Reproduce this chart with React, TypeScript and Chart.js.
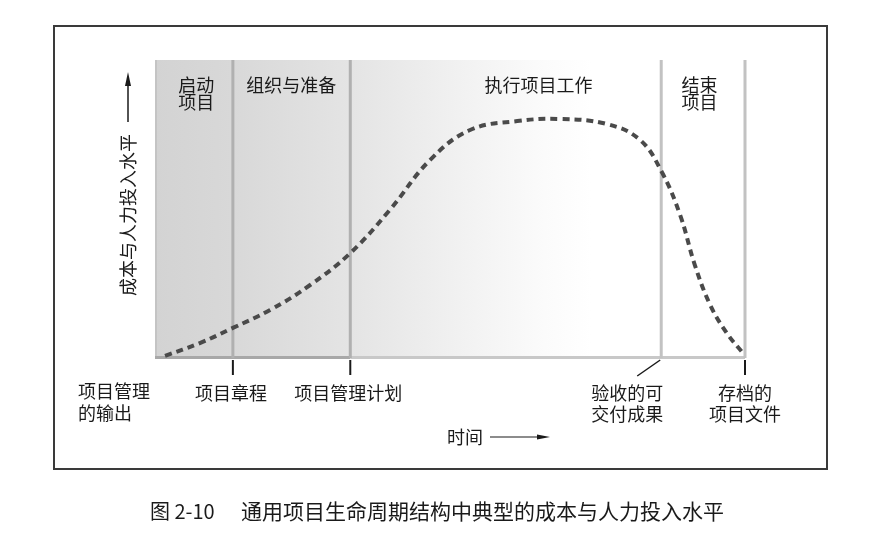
import React, { useEffect, useRef } from "react";
import { Chart, registerables } from "chart.js";

Chart.register(...registerables);

// Effort curve (time 0-100, level 0-100)
const timeValues = [1.7, 7.6, 13.2, 19.5, 26.3, 33.1, 39.8, 46.6, 53.4, 61.4, 68.6, 76.6, 82.2, 85.9, 89.0, 91.5, 94.1, 96.9, 99.5];
const levelValues = [0.7, 5.0, 10.1, 16.1, 24.5, 35.2, 49.7, 66.4, 76.5, 79.5, 80.2, 78.5, 73.2, 62.4, 48.0, 31.2, 17.8, 8.4, 2.0];

// Phase boundaries on the time axis
const phaseBoundaries = [13.2, 33.1, 85.8, 100];
const phaseNames = [["启动", "项目"], ["组织与准备"], ["执行项目工作"], ["结束", "项目"]];
const phaseLabelCenters = [7, 23.1, 65, 92.3];
const milestoneLabels = [["项目章程"], ["项目管理计划"], ["验收的可", "交付成果"], ["存档的", "项目文件"]];
const startLabel = ["项目管理", "的输出"];
const yTitle = "成本与人力投入水平";
const xTitle = "时间";
const caption = "图 2-10";
const captionText = "通用项目生命周期结构中典型的成本与人力投入水平";

const FONT = '"Noto Sans CJK SC", "Noto Sans", sans-serif';

const decorPlugin = {
  id: "decor",
  beforeDatasetsDraw(chart: any) {
    const { ctx, chartArea: a, scales } = chart;
    const xs = scales.x;
    const px = (v: number) => xs.getPixelForValue(v);
    ctx.save();
    // outer frame
    ctx.strokeStyle = "#3a3a3a";
    ctx.lineWidth = 2;
    ctx.strokeRect(54, 26, 773, 443);
    // shaded background
    const g = ctx.createLinearGradient(a.left, 0, a.right, 0);
    g.addColorStop(0, "#d3d3d3");
    g.addColorStop(0.13, "#d8d8d8");
    g.addColorStop(0.33, "#e4e4e4");
    g.addColorStop(0.5, "#f0f0f0");
    g.addColorStop(0.66, "#fbfbfb");
    g.addColorStop(0.74, "#ffffff");
    g.addColorStop(1, "#ffffff");
    ctx.fillStyle = g;
    ctx.fillRect(a.left, a.top, a.right - a.left, a.bottom - a.top);
    // left edge
    ctx.fillStyle = "#c4c4c4";
    ctx.fillRect(a.left, a.top, 2, a.bottom - a.top);
    // bottom edges
    ctx.fillStyle = "#a8a8a8";
    ctx.fillRect(a.left, a.bottom - 2, px(phaseBoundaries[1]) - a.left, 3);
    ctx.fillStyle = "#c8c8c8";
    ctx.fillRect(px(phaseBoundaries[1]), a.bottom - 2, a.right - px(phaseBoundaries[1]), 3);
    // phase lines
    phaseBoundaries.forEach((b, i) => {
      const x = px(b);
      ctx.fillStyle = i < 2 ? "#b0b0b0" : "#c2c2c2";
      ctx.fillRect(x - 1.5, a.top, 3, a.bottom - a.top);
    });
    ctx.restore();
  },
  afterDraw(chart: any) {
    const { ctx, chartArea: a, scales } = chart;
    const xs = scales.x;
    const px = (v: number) => xs.getPixelForValue(v);
    ctx.save();
    ctx.fillStyle = "#1a1a1a";
    ctx.strokeStyle = "#1a1a1a";
    ctx.textBaseline = "middle";
    ctx.textAlign = "center";
    ctx.font = `18px ${FONT}`;
    // phase names
    phaseNames.forEach((lines, i) => {
      lines.forEach((t, j) => ctx.fillText(t, px(phaseLabelCenters[i]), 85 + j * 17));
    });
    // tick marks
    ctx.lineWidth = 2;
    [0, 1, 3].forEach((i) => {
      const x = px(phaseBoundaries[i]);
      ctx.beginPath();
      ctx.moveTo(x, a.bottom + 2);
      ctx.lineTo(x, a.bottom + 17);
      ctx.stroke();
    });
    ctx.lineWidth = 1.5;
    ctx.beginPath();
    ctx.moveTo(px(phaseBoundaries[2]) - 1, a.bottom + 2);
    ctx.lineTo(px(phaseBoundaries[2]) - 24, a.bottom + 18);
    ctx.stroke();
    // milestone labels
    const mx = [px(phaseBoundaries[0]) - 2, px(phaseBoundaries[1]) - 2, px(phaseBoundaries[2]) - 34, px(phaseBoundaries[3])];
    milestoneLabels.forEach((lines, i) => {
      lines.forEach((t, j) => ctx.fillText(t, mx[i], 393 + j * 21));
    });
    ctx.textAlign = "left";
    startLabel.forEach((t, j) => ctx.fillText(t, 78, 391 + j * 22));
    // x title + arrow
    ctx.textAlign = "center";
    ctx.fillText(xTitle, 465, 437);
    ctx.lineWidth = 1.2;
    ctx.beginPath();
    ctx.moveTo(490, 437);
    ctx.lineTo(540, 437);
    ctx.stroke();
    ctx.beginPath();
    ctx.moveTo(550, 437);
    ctx.lineTo(537, 434.5);
    ctx.lineTo(537, 439.5);
    ctx.closePath();
    ctx.fill();
    // y title + arrow
    ctx.save();
    ctx.translate(128, 215);
    ctx.rotate(-Math.PI / 2);
    ctx.fillText(yTitle, 0, 0);
    ctx.restore();
    ctx.lineWidth = 1.5;
    ctx.beginPath();
    ctx.moveTo(128, 122);
    ctx.lineTo(128, 84);
    ctx.stroke();
    ctx.beginPath();
    ctx.moveTo(128, 72);
    ctx.lineTo(125, 86);
    ctx.lineTo(131, 86);
    ctx.closePath();
    ctx.fill();
    // caption
    ctx.textAlign = "left";
    ctx.font = `20px ${FONT}`;
    ctx.fillText(caption, 150, 511);
    ctx.font = `21px ${FONT}`;
    ctx.fillText(captionText, 241, 511);
    ctx.restore();
  },
};

export default function App() {
  const ref = useRef<HTMLCanvasElement>(null);
  useEffect(() => {
    if (!ref.current) return;
    const chart = new Chart(ref.current, {
      type: "line",
      data: {
        datasets: [
          {
            data: timeValues.map((t, i) => ({ x: t, y: levelValues[i] })),
            borderColor: "#4a4a4a",
            borderWidth: 4,
            borderDash: [7, 5],
            pointRadius: 0,
            tension: 0.4,
            fill: false,
          },
        ],
      },
      options: {
        responsive: false,
        animation: false,
        layout: { padding: { left: 155, right: 142, top: 60, bottom: 187 } },
        plugins: { legend: { display: false }, tooltip: { enabled: false }, title: { display: false } },
        scales: {
          x: { type: "linear", min: 0, max: 100, display: false },
          y: { type: "linear", min: 0, max: 100, display: false },
        },
      },
      plugins: [decorPlugin],
    });
    return () => chart.destroy();
  }, []);
  return (
    <div style={{ position: "absolute", left: 0, top: 0, width: 887, height: 545, background: "#fff" }}>
      <canvas ref={ref} width={887} height={545} style={{ display: "block" }} />
    </div>
  );
}
